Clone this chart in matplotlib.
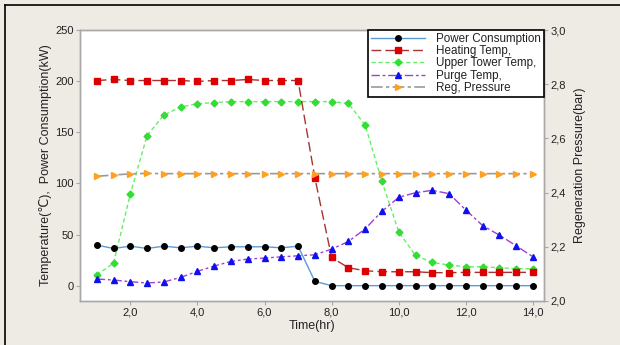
import matplotlib
matplotlib.use("Agg")
import matplotlib.pyplot as plt
from matplotlib.ticker import FuncFormatter
from matplotlib.lines import Line2D

plt.rcParams['font.family'] = ['Liberation Sans', 'DejaVu Sans']

time_hr = [1.0, 1.5, 2.0, 2.5, 3.0, 3.5, 4.0, 4.5, 5.0, 5.5, 6.0, 6.5, 7.0, 7.5,
           8.0, 8.5, 9.0, 9.5, 10.0, 10.5, 11.0, 11.5, 12.0, 12.5, 13.0, 13.5, 14.0]

power_kw = [39.6, 36.4, 38.6, 36.4, 38.6, 37.0, 38.6, 37.0, 38.0, 38.0, 38.0, 37.0, 38.6, 4.2,
            0, 0, 0, 0, 0, 0, 0, 0, 0, 0, 0, 0, 0]

heating_temp = [200.6, 201.6, 200.6, 200.6, 200.6, 200.6, 199.7, 200.6, 200.6, 201.6, 200.6, 200.6, 200.6,
                105.5, 27.6, 17.5, 14.6, 13.6, 13.6, 13.6, 12.7, 12.7, 13.0, 13.0, 13.0, 13.0, 13.0]

upper_tower_temp = [10.4, 22.0, 89.6, 146.8, 166.9, 174.7, 178.0, 179.0, 180.0, 180.0, 180.0, 180.0, 180.0,
                    180.0, 180.0, 178.2, 157.0, 102.0, 52.6, 29.5, 22.7, 20.1, 18.5, 18.5, 17.5, 16.6, 16.6]

purge_temp = [6.5, 5.5, 3.9, 2.6, 3.6, 8.1, 14.0, 19.2, 23.7, 26.0, 27.0, 28.2, 29.2, 30.2,
              35.7, 43.2, 55.5, 72.7, 86.4, 90.9, 93.2, 90.0, 74.0, 58.8, 49.4, 39.0, 28.2]

reg_pressure = [2.460, 2.465, 2.469, 2.471, 2.470, 2.470, 2.470, 2.470, 2.470, 2.470, 2.470, 2.470, 2.470,
                2.470, 2.470, 2.470, 2.470, 2.470, 2.470, 2.470, 2.470, 2.470, 2.470, 2.470, 2.470, 2.470, 2.470]

x_ticks = [2.0, 4.0, 6.0, 8.0, 10.0, 12.0, 14.0]
left_ticks = [0, 50, 100, 150, 200, 250]
right_ticks = [2.0, 2.2, 2.4, 2.6, 2.8, 3.0]

fig = plt.figure(figsize=(6.2, 3.45), dpi=100, facecolor='#EEEAE4')
ax = fig.add_axes([80 / 620, 1 - 301 / 345, (544 - 80) / 620, (301 - 30) / 345])
ax.set_facecolor('white')
ax2 = ax.twinx()

# frame around the panel (left and top edges visible)
fig.add_artist(Line2D([4.5 / 620, 4.5 / 620], [0, 1 - 5 / 345], color='black', lw=1.2,
                      transform=fig.transFigure))
fig.add_artist(Line2D([4.5 / 620, 1], [1 - 5 / 345, 1 - 5 / 345], color='black', lw=1.2,
                      transform=fig.transFigure))

l_power, = ax.plot(time_hr, power_kw, color='#5B9BD5', lw=1.0, ls='-',
                   marker='o', ms=4, mfc='black', mec='black', label='Power Consumption', zorder=5)
l_heat, = ax.plot(time_hr, heating_temp, color='#A83232', lw=1.0, ls=(0, (7, 3)),
                  marker='s', ms=4, mfc='#DD0000', mec='#DD0000', label='Heating Temp,', zorder=4)
l_upper, = ax.plot(time_hr, upper_tower_temp, color='#66EE66', lw=1.0, ls=(0, (3, 2)),
                   marker='D', ms=3.5, mfc='#33DD33', mec='#33DD33', label='Upper Tower Temp,', zorder=3)
l_purge, = ax.plot(time_hr, purge_temp, color='#A040D0', lw=1.0, ls=(0, (6, 2, 2, 2)),
                   marker='^', ms=4.5, mfc='#1010EE', mec='#1010EE', label='Purge Temp,', zorder=4)
l_press, = ax2.plot(time_hr, reg_pressure, color='#9A9A9A', lw=1.2, ls=(0, (7, 2, 2, 2)),
                    marker='>', ms=5, mfc='#FFA020', mec='#FFA020', label='Reg, Pressure', zorder=3)

ax.set_xlim(0.5, 14.33)
ax.set_ylim(-15, 250)
ax2.set_ylim(2.0, 3.0)

comma = FuncFormatter(lambda v, p: f"{v:.1f}".replace('.', ','))
ax.set_xticks(x_ticks)
ax.xaxis.set_major_formatter(comma)
ax.set_yticks(left_ticks)
ax2.set_yticks(right_ticks)
ax2.yaxis.set_major_formatter(comma)

for a in (ax, ax2):
    for s in a.spines.values():
        s.set_color('#A8A8A8')
        s.set_linewidth(1.0)
    a.tick_params(colors='#A8A8A8', labelcolor='#222222', labelsize=8, length=3, width=0.8, pad=1.5)

ax.set_xlabel('Time(hr)', fontsize=9, color='#222222', labelpad=2)
ax.set_ylabel('Temperature(\u2103),  Power Consumption(kW)', fontsize=9, color='#222222', labelpad=2)
ax2.set_ylabel('Regeneration Pressure(bar)', fontsize=9, color='#222222', labelpad=6)

leg = ax2.legend(handles=[l_power, l_heat, l_upper, l_purge, l_press], loc='upper right',
                 bbox_to_anchor=(1.0, 1.0), fontsize=8.4, numpoints=1, handlelength=4.6,
                 handletextpad=1.0, borderaxespad=0, labelspacing=0.02, borderpad=0.25,
                 fancybox=False, framealpha=1, edgecolor='black')
leg.get_frame().set_linewidth(1.2)
for t in leg.get_texts():
    t.set_color('#222222')

fig.savefig('out.png', dpi=100, facecolor=fig.get_facecolor())
